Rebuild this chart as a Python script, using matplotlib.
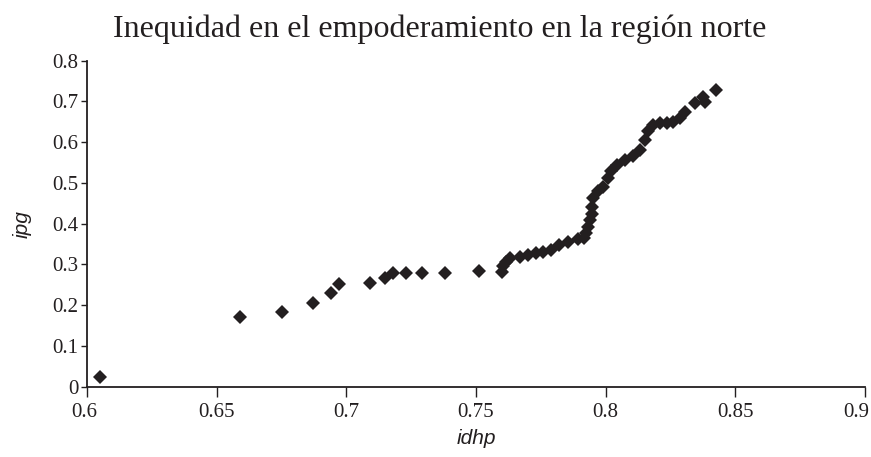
import matplotlib
matplotlib.use("Agg")
import matplotlib.pyplot as plt
from matplotlib.transforms import ScaledTranslation

title = "Inequidad en el empoderamiento en la región norte"
x_label = "idhp"
y_label = "ipg"

idhp = [0.605, 0.659, 0.675, 0.687, 0.694, 0.697, 0.709, 0.715, 0.718, 0.723,
        0.729, 0.738, 0.751, 0.760, 0.7605, 0.7615, 0.763, 0.767, 0.770, 0.773,
        0.776, 0.779, 0.782, 0.7856, 0.7894, 0.7915, 0.7926, 0.7933, 0.7939, 0.7946,
        0.7948, 0.7952, 0.7971, 0.799, 0.801, 0.8022, 0.8042, 0.8074, 0.8106, 0.8132,
        0.8151, 0.8164, 0.8183, 0.8209, 0.8235, 0.826, 0.8286, 0.8305, 0.8344, 0.8376,
        0.8382, 0.8427]
ipg = [0.025, 0.172, 0.183, 0.205, 0.231, 0.251, 0.255, 0.267, 0.278, 0.278,
       0.278, 0.280, 0.283, 0.282, 0.296, 0.306, 0.316, 0.319, 0.323, 0.327,
       0.331, 0.336, 0.347, 0.356, 0.362, 0.366, 0.376, 0.392, 0.408, 0.425,
       0.442, 0.462, 0.481, 0.491, 0.513, 0.530, 0.544, 0.556, 0.565, 0.581,
       0.605, 0.628, 0.641, 0.646, 0.646, 0.650, 0.659, 0.675, 0.695, 0.712,
       0.699, 0.728]

x_ticks = [0.6, 0.65, 0.7, 0.75, 0.8, 0.85, 0.9]
x_tick_labels = ["0.6", "0.65", "0.7", "0.75", "0.8", "0.85", "0.9"]
y_ticks = [0, 0.1, 0.2, 0.3, 0.4, 0.5, 0.6, 0.7, 0.8]
y_tick_labels = ["0", "0.1", "0.2", "0.3", "0.4", "0.5", "0.6", "0.7", "0.8"]

ink = "#231f20"

fig = plt.figure(figsize=(8.71, 4.57), dpi=100)
ax = fig.add_axes([0.0999, 0.1538, 0.8932, 0.7134])

ax.plot(idhp, ipg, linestyle="none", marker="D", markersize=7.5,
        color=ink, markeredgewidth=0)

ax.set_xlim(0.6, 0.9)
ax.set_ylim(0, 0.8)
ax.set_xticks(x_ticks)
ax.set_xticklabels(x_tick_labels)
ax.set_yticks(y_ticks)
ax.set_yticklabels(y_tick_labels)

for s in ["top", "right"]:
    ax.spines[s].set_visible(False)
for s in ["left", "bottom"]:
    ax.spines[s].set_color(ink)
    ax.spines[s].set_linewidth(1.3)

serif = ["Liberation Serif", "DejaVu Serif"]
ax.tick_params(axis="x", direction="out", length=7, width=1.0, color=ink,
               pad=5, labelcolor=ink)
ax.tick_params(axis="y", direction="out", length=4, width=1.0, color=ink,
               pad=2, labelcolor=ink)
for lab in ax.get_xticklabels() + ax.get_yticklabels():
    lab.set_fontfamily(serif)
    lab.set_fontsize(15)

xlabs = ax.get_xticklabels()
xlabs[0].set_transform(xlabs[0].get_transform() + ScaledTranslation(-3 / 100, 0, fig.dpi_scale_trans))
xlabs[-1].set_transform(xlabs[-1].get_transform() + ScaledTranslation(-9 / 100, 0, fig.dpi_scale_trans))

ax.set_xlabel(x_label, fontfamily=["Liberation Sans", "DejaVu Sans"],
              fontstyle="italic", fontsize=15, color=ink, labelpad=5)
ax.set_ylabel(y_label, fontfamily=["Liberation Sans", "DejaVu Sans"],
              fontstyle="italic", fontsize=15, color=ink, labelpad=15)

fig.text(0.505, 0.935, title, ha="center", va="center",
         fontfamily=serif, fontsize=23, color=ink)

fig.savefig("out.png", dpi=100)
